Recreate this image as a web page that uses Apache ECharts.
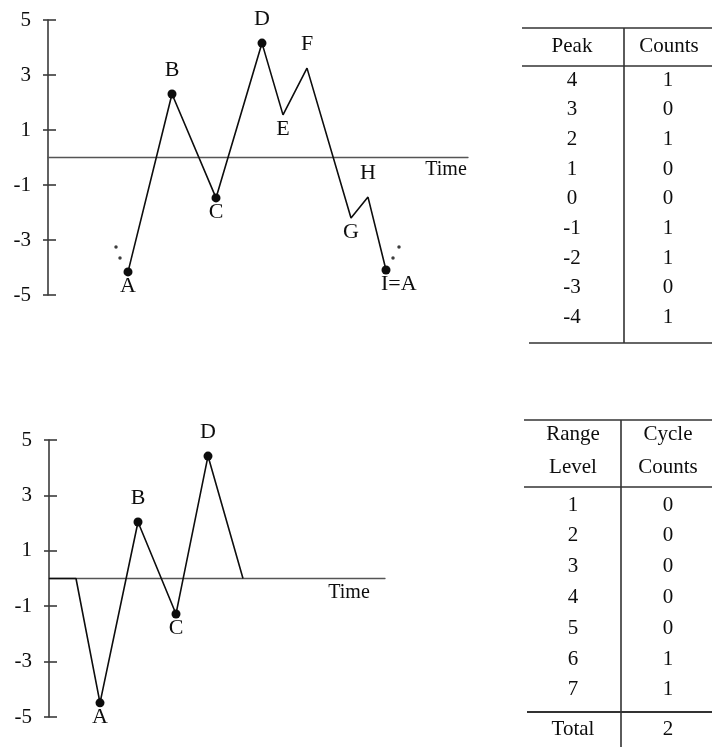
<!DOCTYPE html>
<html>
<head>
<meta charset="utf-8">
<script src="https://cdn.jsdelivr.net/npm/echarts@6/dist/echarts.min.js"></script>
<style>
  html, body { margin: 0; padding: 0; background: #fff; }
  #chart { width: 712px; height: 747px; }
</style>
</head>
<body>
<div id="chart"></div>
<script>
// Upper history: load reversals A..I over time (I returns to the level of A)
const topTime   = [8.0, 12.4, 16.8, 21.4, 23.5, 25.9, 30.3, 32.0, 33.8];
const topLevel  = [-4.16, 2.31, -1.47, 4.16, 1.55, 3.25, -2.2, -1.44, -4.09];
const topNames  = ['A', 'B', 'C', 'D', 'E', 'F', 'G', 'H', 'I=A'];
const topMarked = [true, true, true, true, false, false, false, false, true];

// dotted continuation of the history beyond A and I
const leadTime  = [6.8, 7.2, 34.5, 35.1];
const leadLevel = [-3.25, -3.65, -3.65, -3.25];

// Lower history: rearranged sequence starting from zero
const lowTime   = [0, 2.7, 5.1, 8.9, 12.7, 15.9, 19.4];
const lowLevel  = [0, 0, -4.49, 2.04, -1.28, 4.42, 0];
const lowNames  = ['', '', 'A', 'B', 'C', 'D', ''];
const lowMarked = [false, false, true, true, true, true, false];

// shared tick labels of both level axes
const levelTicks = [-5, -3, -1, 1, 3, 5];

// peak counting table
const peakLevels = ['4', '3', '2', '1', '0', '-1', '-2', '-3', '-4'];
const peakCounts = ['1', '0', '1', '0', '0', '1', '1', '0', '1'];

// range-pair cycle table
const rangeLevels = ['1', '2', '3', '4', '5', '6', '7'];
const cycleCounts = ['0', '0', '0', '0', '0', '1', '1'];
const cycleTotal  = '2';

const FONT = "'Liberation Serif', 'DejaVu Serif', serif";
const INK = '#0d0d0d';
const RULE = '#333';

// a reversal is a peak when it is higher than its neighbours
function isPeak(vals, i) {
  const prev = i > 0 ? vals[i - 1] : -Infinity;
  const next = i < vals.length - 1 ? vals[i + 1] : -Infinity;
  return vals[i] >= prev && vals[i] >= next;
}

function historyData(times, vals, names, marked, shiftLast) {
  return times.map((t, i) => {
    const up = isPeak(vals, i);
    const label = {
      show: names[i] !== '',
      formatter: names[i],
      position: up ? 'top' : 'bottom',
      distance: up ? 8 : -1
    };
    if (shiftLast && i === times.length - 1) {
      label.align = 'left';
      label.offset = [-5, 0];
    }
    return {
      value: [t, vals[i]],
      itemStyle: { color: marked[i] ? INK : 'rgba(0,0,0,0)' },
      label: label
    };
  });
}

function levelAxes(gridIndex) {
  return [
    {
      type: 'value', gridIndex: gridIndex, position: 'left', min: -5, max: 5,
      axisLine: { show: true, onZero: false, lineStyle: { color: '#3a3a3a', width: 1.6 } },
      axisTick: { show: true, inside: true, length: 8, customValues: levelTicks,
                  lineStyle: { color: '#3a3a3a', width: 1.6 } },
      axisLabel: { show: true, customValues: levelTicks, margin: 17,
                   fontFamily: FONT, fontSize: 21, color: INK },
      splitLine: { show: false }
    },
    {
      type: 'value', gridIndex: gridIndex, position: 'left', min: -5, max: 5,
      axisLine: { show: false, onZero: false },
      axisTick: { show: true, inside: false, length: 5, customValues: levelTicks,
                  lineStyle: { color: '#3a3a3a', width: 1.6 } },
      axisLabel: { show: false },
      splitLine: { show: false }
    }
  ];
}

function timeAxis(gridIndex, max) {
  return {
    type: 'value', gridIndex: gridIndex, min: 0, max: max,
    axisLine: { show: true, onZero: true,
                lineStyle: { color: '#555', width: 1.3 } },
    axisTick: { show: false },
    axisLabel: { show: false },
    splitLine: { show: false }
  };
}

const labelStyle = { fontFamily: FONT, fontSize: 22, color: INK };

function textEl(x, y, s) {
  return {
    type: 'text', x: x, y: y,
    style: { text: s, fill: INK, font: '21px ' + FONT, align: 'center', verticalAlign: 'middle' }
  };
}
function lineEl(x1, y1, x2, y2, w) {
  return {
    type: 'line',
    shape: { x1: x1, y1: y1, x2: x2, y2: y2 },
    style: { stroke: RULE, lineWidth: w || 1.6 }
  };
}

// table drawing
const graphics = [];
// peak table
graphics.push(lineEl(522, 28, 712, 28));
graphics.push(lineEl(522, 66, 712, 66));
graphics.push(lineEl(624, 28, 624, 343));
graphics.push(lineEl(529, 343, 712, 343));
graphics.push(textEl(572, 46, 'Peak'));
graphics.push(textEl(669, 46, 'Counts'));
peakLevels.forEach((p, i) => {
  const y = 80 + i * 29.7;
  graphics.push(textEl(572, y, p));
  graphics.push(textEl(668, y, peakCounts[i]));
});
// cycle table
graphics.push(lineEl(524, 420, 712, 420));
graphics.push(lineEl(524, 487, 712, 487));
graphics.push(lineEl(621, 420, 621, 747));
graphics.push(lineEl(527, 712, 712, 712, 2.2));
graphics.push(textEl(573, 434, 'Range'));
graphics.push(textEl(573, 467, 'Level'));
graphics.push(textEl(668, 434, 'Cycle'));
graphics.push(textEl(668, 467, 'Counts'));
rangeLevels.forEach((r, i) => {
  const y = 505 + i * 30.8;
  graphics.push(textEl(573, y, r));
  graphics.push(textEl(668, y, cycleCounts[i]));
});
graphics.push(textEl(573, 729, 'Total'));
graphics.push(textEl(668, 729, cycleTotal));
// axis captions
graphics.push({ type: 'text', x: 446, y: 170,
  style: { text: 'Time', fill: INK, font: '20px ' + FONT, align: 'center', verticalAlign: 'middle' } });
graphics.push({ type: 'text', x: 349, y: 593,
  style: { text: 'Time', fill: INK, font: '20px ' + FONT, align: 'center', verticalAlign: 'middle' } });

const chart = echarts.init(document.getElementById('chart'), null, { renderer: 'canvas' });
chart.setOption({
  backgroundColor: '#fff',
  animation: false,
  grid: [
    { left: 48, top: 20, width: 420, height: 275 },
    { left: 49, top: 440, width: 336, height: 277 }
  ],
  xAxis: [timeAxis(0, 42), timeAxis(1, 33.6)],
  yAxis: levelAxes(0).concat(levelAxes(1)),
  series: [
    {
      type: 'line', xAxisIndex: 0, yAxisIndex: 0,
      data: historyData(topTime, topLevel, topNames, topMarked, true),
      symbol: 'circle', symbolSize: 9, showSymbol: true,
      lineStyle: { color: INK, width: 1.6 },
      label: labelStyle, z: 3
    },
    {
      type: 'scatter', xAxisIndex: 0, yAxisIndex: 0,
      data: leadTime.map((t, i) => [t, leadLevel[i]]),
      symbol: 'circle', symbolSize: 3.5,
      itemStyle: { color: INK }
    },
    {
      type: 'line', xAxisIndex: 1, yAxisIndex: 2,
      data: historyData(lowTime, lowLevel, lowNames, lowMarked, false),
      symbol: 'circle', symbolSize: 9, showSymbol: true,
      lineStyle: { color: INK, width: 1.6 },
      label: labelStyle, z: 3
    }
  ],
  graphic: graphics
});
</script>
</body>
</html>
